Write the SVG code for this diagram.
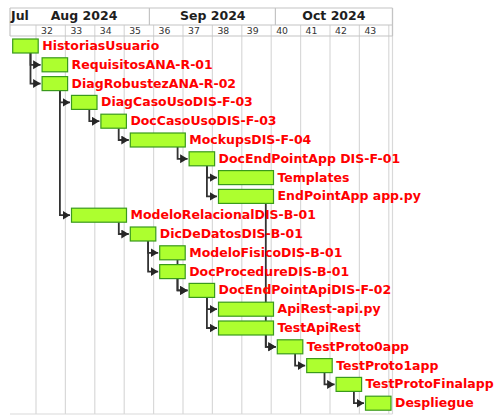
<svg xmlns="http://www.w3.org/2000/svg" width="503" height="415" viewBox="0 0 503 415">
<style>
.grid{stroke:#d9d9d9;stroke-width:1.2;fill:none}
.hdr{stroke:#c4c4c4;stroke-width:1.2;fill:none}
.month{font-family:"DejaVu Sans",sans-serif;font-weight:bold;font-size:12.5px;fill:#1e1e1e}
.week{font-family:"DejaVu Sans",sans-serif;font-size:9.3px;fill:#333}
.bar{fill:#adff2f;stroke:#3a9a1c;stroke-width:1.2}
.lbl{font-family:"DejaVu Sans",sans-serif;font-weight:bold;font-size:12.5px;fill:#ff0000}
.con{stroke:#333333;stroke-width:1.8;fill:none;marker-end:url(#ah)}
</style>
<defs>
<marker id="ah" markerUnits="userSpaceOnUse" markerWidth="9" markerHeight="10" refX="7.5" refY="4.5" orient="auto">
<path d="M0,0 L7.5,4.5 L0,9 z" fill="#262626"/>
</marker>
</defs>
<rect width="503" height="415" fill="#ffffff"/>
<g id="grid">
<path class="grid" d="M36,25V414M65.4,25V414M94.8,25V414M124.2,25V414M153.6,25V414M183,25V414M212.4,25V414M241.8,25V414M271.2,25V414M300.6,25V414M330,25V414M359.4,25V414M388.8,25V414M392.5,8V414M10,414H392.5"/>
</g>
<g id="header">
<path class="hdr" d="M10,8H392.5M10,25H392.5M10,36H392.5M10,8V36M149.4,8V25M275.4,8V25M392.5,8V36"/>
<text class="month" x="11" y="20">Jul</text>
<text class="month" x="50.7" y="20">Aug 2024</text>
<text class="month" x="180" y="20">Sep 2024</text>
<text class="month" x="302.3" y="20">Oct 2024</text>
<text class="week" x="41" y="34.3">32</text>
<text class="week" x="70.4" y="34.3">33</text>
<text class="week" x="99.8" y="34.3">34</text>
<text class="week" x="129.2" y="34.3">35</text>
<text class="week" x="158.6" y="34.3">36</text>
<text class="week" x="188" y="34.3">37</text>
<text class="week" x="217.4" y="34.3">38</text>
<text class="week" x="246.8" y="34.3">39</text>
<text class="week" x="276.2" y="34.3">40</text>
<text class="week" x="305.6" y="34.3">41</text>
<text class="week" x="335" y="34.3">42</text>
<text class="week" x="364.4" y="34.3">43</text>
</g>
<g id="connectors">
<path class="con" d="M30.5,53V64.8H40.6"/>
<path class="con" d="M30.5,53V83.6H40.6"/>
<path class="con" d="M59.9,90.6V102.4H70"/>
<path class="con" d="M59.9,90.6V215.2H70"/>
<path class="con" d="M89.3,109.4V121.2H99.4"/>
<path class="con" d="M118.7,128.2V140H128.8"/>
<path class="con" d="M177.6,147V158.8H187.6"/>
<path class="con" d="M206.9,165.8V177.6H217"/>
<path class="con" d="M206.9,165.8V196.4H217"/>
<path class="con" d="M265.8,203.4V346.8H275.8"/>
<path class="con" d="M118.8,222.2V234H128.8"/>
<path class="con" d="M148.1,241V252.8H158.2"/>
<path class="con" d="M148.1,241V271.6H158.2"/>
<path class="con" d="M177.5,259.8V290.4H187.6"/>
<path class="con" d="M177.5,278.6V290.4H187.6"/>
<path class="con" d="M206.9,297.4V309.2H217"/>
<path class="con" d="M206.9,297.4V328H217"/>
<path class="con" d="M265.8,335V346.8H275.8"/>
<path class="con" d="M295.1,353.8V365.6H305.2"/>
<path class="con" d="M324.5,372.6V384.4H334.6"/>
<path class="con" d="M353.9,391.4V403.2H364"/>
</g>
<g id="t00"><rect class="bar" x="12.7" y="39" width="25.5" height="14"/><text class="lbl" x="42.2" y="50">HistoriasUsuario</text></g>
<g id="t01"><rect class="bar" x="42.1" y="57.8" width="25.5" height="14"/><text class="lbl" x="71.6" y="68.8">RequisitosANA-R-01</text></g>
<g id="t02"><rect class="bar" x="42.1" y="76.6" width="25.5" height="14"/><text class="lbl" x="71.6" y="87.6">DiagRobustezANA-R-02</text></g>
<g id="t03"><rect class="bar" x="71.5" y="95.4" width="25.5" height="14"/><text class="lbl" x="101" y="106.4">DiagCasoUsoDIS-F-03</text></g>
<g id="t04"><rect class="bar" x="100.9" y="114.2" width="25.5" height="14"/><text class="lbl" x="130.4" y="125.2">DocCasoUsoDIS-F-03</text></g>
<g id="t05"><rect class="bar" x="130.3" y="133" width="55" height="14"/><text class="lbl" x="189.3" y="144">MockupsDIS-F-04</text></g>
<g id="t06"><rect class="bar" x="189.1" y="151.8" width="25.5" height="14"/><text class="lbl" x="218.6" y="162.8">DocEndPointApp DIS-F-01</text></g>
<g id="t07"><rect class="bar" x="218.5" y="170.6" width="55" height="14"/><text class="lbl" x="277.5" y="181.6">Templates</text></g>
<g id="t08"><rect class="bar" x="218.5" y="189.4" width="55" height="14"/><text class="lbl" x="277.5" y="200.4">EndPointApp app.py</text></g>
<g id="t09"><rect class="bar" x="71.5" y="208.2" width="55" height="14"/><text class="lbl" x="130.5" y="219.2">ModeloRelacionalDIS-B-01</text></g>
<g id="t10"><rect class="bar" x="130.3" y="227" width="25.5" height="14"/><text class="lbl" x="159.8" y="238">DicDeDatosDIS-B-01</text></g>
<g id="t11"><rect class="bar" x="159.7" y="245.8" width="25.5" height="14"/><text class="lbl" x="189.2" y="256.8">ModeloFisicoDIS-B-01</text></g>
<g id="t12"><rect class="bar" x="159.7" y="264.6" width="25.5" height="14"/><text class="lbl" x="189.2" y="275.6">DocProcedureDIS-B-01</text></g>
<g id="t13"><rect class="bar" x="189.1" y="283.4" width="25.5" height="14"/><text class="lbl" x="218.6" y="294.4">DocEndPointApiDIS-F-02</text></g>
<g id="t14"><rect class="bar" x="218.5" y="302.2" width="55" height="14"/><text class="lbl" x="277.5" y="313.2">ApiRest-api.py</text></g>
<g id="t15"><rect class="bar" x="218.5" y="321" width="55" height="14"/><text class="lbl" x="277.5" y="332">TestApiRest</text></g>
<g id="t16"><rect class="bar" x="277.3" y="339.8" width="25.5" height="14"/><text class="lbl" x="306.8" y="350.8">TestProto0app</text></g>
<g id="t17"><rect class="bar" x="306.7" y="358.6" width="25.5" height="14"/><text class="lbl" x="336.2" y="369.6">TestProto1app</text></g>
<g id="t18"><rect class="bar" x="336.1" y="377.4" width="25.5" height="14"/><text class="lbl" x="365.6" y="388.4">TestProtoFinalapp</text></g>
<g id="t19"><rect class="bar" x="365.5" y="396.2" width="25.5" height="14"/><text class="lbl" x="395" y="407.2">Despliegue</text></g>
</svg>
